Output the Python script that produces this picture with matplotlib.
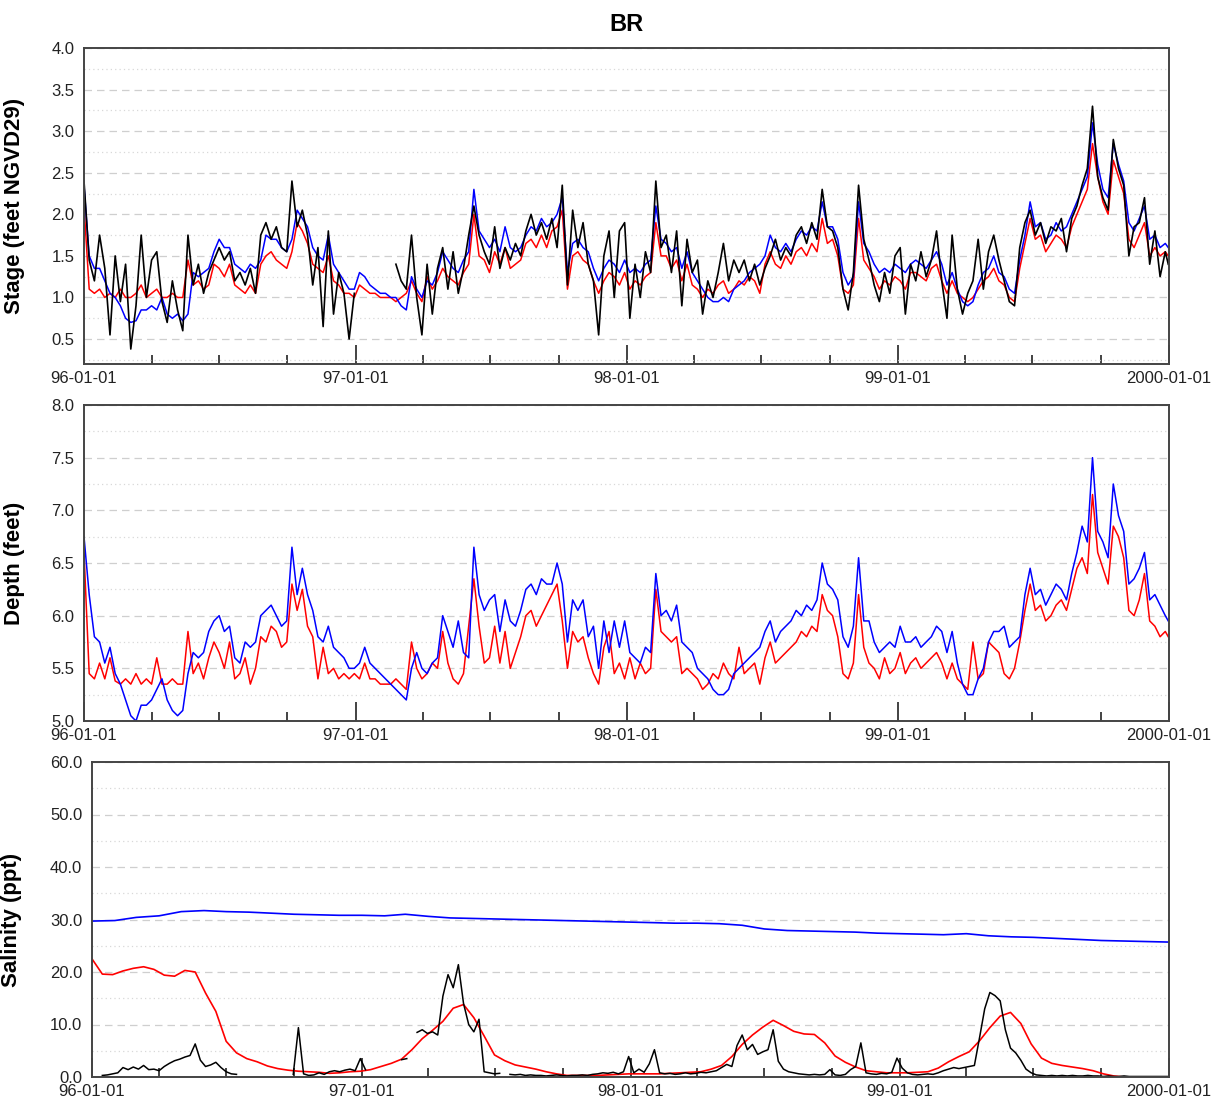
import numpy as np
import matplotlib
matplotlib.use("Agg")
import matplotlib.pyplot as plt
import matplotlib.dates as mdates
from matplotlib.ticker import MultipleLocator, FormatStrFormatter

plt.rcParams['font.family'] = ['Liberation Sans', 'DejaVu Sans']

nan = np.nan

# sampling dates: weekly from 96-01-01 plus the last day of 1999
start = np.datetime64('1996-01-01')
week_dates = start + np.array(list(range(0, 1457, 7)) + [1460]).astype('timedelta64[D]')
biweek_dates = start + np.array(list(range(0, 1457, 14)) + [1460]).astype('timedelta64[D]')
month_dates = np.arange('1996-01', '2000-02', dtype='datetime64[M]').astype('datetime64[D]')

# ---- Stage (feet NGVD29), one row = one quarter (13 weeks)
stage_black = [
    2.40, 1.45, 1.20, 1.75, 1.35, 0.55, 1.50, 0.95, 1.40, 0.38, 0.90, 1.75, 1.00,
    1.45, 1.55, 0.95, 0.70, 1.20, 0.85, 0.60, 1.75, 1.15, 1.40, 1.05, 1.30, 1.45,
    1.60, 1.45, 1.55, 1.20, 1.30, 1.15, 1.35, 1.05, 1.75, 1.90, 1.70, 1.85, 1.60,
    1.55, 2.40, 1.85, 2.05, 1.75, 1.15, 1.60, 0.65, 1.80, 0.80, 1.30, 1.05, 0.50,
    1.05, nan, nan, nan, nan, nan, nan, nan, 1.40, 1.20, 1.10, 1.75, 1.00,
    0.55, 1.40, 0.80, 1.35, 1.60, 1.10, 1.55, 1.05, 1.35, 1.75, 2.10, 1.75, 1.55,
    1.40, 1.85, 1.35, 1.60, 1.45, 1.65, 1.50, 1.80, 2.00, 1.75, 1.90, 1.70, 1.95,
    1.60, 2.35, 1.15, 2.05, 1.60, 1.90, 1.40, 1.20, 0.55, 1.50, 1.80, 1.00, 1.80,
    1.90, 0.75, 1.40, 1.00, 1.55, 1.30, 2.40, 1.60, 1.75, 1.30, 1.80, 0.90, 1.70,
    1.30, 1.45, 0.80, 1.20, 1.00, 1.30, 1.65, 1.20, 1.45, 1.30, 1.45, 1.20, 1.40,
    1.15, 1.35, 1.50, 1.70, 1.45, 1.60, 1.50, 1.75, 1.85, 1.65, 1.90, 1.70, 2.30,
    1.85, 1.80, 1.60, 1.10, 0.85, 1.30, 2.35, 1.70, 1.45, 1.15, 0.95, 1.30, 1.05,
    1.50, 1.60, 0.80, 1.40, 1.20, 1.55, 1.25, 1.45, 1.80, 1.20, 0.75, 1.75, 1.10,
    0.80, 1.05, 1.20, 1.70, 1.10, 1.55, 1.75, 1.45, 1.20, 0.95, 0.90, 1.60, 1.90,
    2.05, 1.75, 1.90, 1.65, 1.85, 1.80, 1.95, 1.55, 1.95, 2.10, 2.35, 2.55, 3.30,
    2.45, 2.20, 2.05, 2.90, 2.55, 2.35, 1.50, 1.85, 1.90, 2.20, 1.40, 1.80, 1.25,
    1.55, 1.40]
stage_blue = [
    2.35, 1.50, 1.35, 1.35, 1.20, 1.05, 1.00, 0.90, 0.75, 0.70, 0.72, 0.85, 0.85,
    0.90, 0.85, 1.00, 0.80, 0.75, 0.80, 0.72, 0.80, 1.30, 1.25, 1.30, 1.35, 1.55,
    1.70, 1.60, 1.60, 1.40, 1.35, 1.30, 1.40, 1.35, 1.45, 1.75, 1.70, 1.70, 1.60,
    1.55, 1.70, 2.05, 1.95, 1.85, 1.60, 1.50, 1.45, 1.75, 1.40, 1.30, 1.20, 1.10,
    1.10, 1.30, 1.25, 1.15, 1.10, 1.05, 1.05, 1.00, 1.00, 0.90, 0.85, 1.25, 1.10,
    1.00, 1.20, 1.15, 1.30, 1.55, 1.45, 1.35, 1.30, 1.45, 1.55, 2.30, 1.80, 1.70,
    1.60, 1.70, 1.55, 1.85, 1.60, 1.55, 1.60, 1.75, 1.85, 1.80, 1.95, 1.85, 1.90,
    2.00, 2.20, 1.30, 1.65, 1.70, 1.60, 1.55, 1.35, 1.20, 1.35, 1.45, 1.40, 1.30,
    1.45, 1.30, 1.35, 1.30, 1.40, 1.45, 2.10, 1.70, 1.65, 1.55, 1.60, 1.35, 1.55,
    1.30, 1.20, 1.10, 1.00, 0.95, 0.95, 1.00, 0.95, 1.10, 1.15, 1.20, 1.30, 1.35,
    1.40, 1.50, 1.75, 1.60, 1.55, 1.65, 1.55, 1.70, 1.80, 1.75, 1.85, 1.80, 2.15,
    1.85, 1.85, 1.70, 1.30, 1.15, 1.25, 2.15, 1.65, 1.55, 1.40, 1.30, 1.35, 1.30,
    1.40, 1.35, 1.30, 1.40, 1.45, 1.40, 1.35, 1.45, 1.55, 1.40, 1.15, 1.30, 1.10,
    0.95, 0.90, 0.95, 1.15, 1.30, 1.35, 1.50, 1.30, 1.25, 1.10, 1.05, 1.45, 1.75,
    2.15, 1.85, 1.90, 1.70, 1.75, 1.90, 1.80, 1.85, 2.00, 2.15, 2.30, 2.45, 3.10,
    2.60, 2.30, 2.20, 2.85, 2.60, 2.40, 1.90, 1.80, 1.95, 2.10, 1.70, 1.75, 1.60,
    1.65, 1.60]
stage_red = [
    2.10, 1.10, 1.05, 1.10, 1.00, 1.05, 1.00, 1.10, 1.00, 1.00, 1.05, 1.15, 1.00,
    1.05, 1.10, 1.00, 1.00, 1.05, 1.00, 1.00, 1.45, 1.15, 1.20, 1.10, 1.15, 1.40,
    1.35, 1.25, 1.40, 1.15, 1.10, 1.05, 1.15, 1.05, 1.40, 1.50, 1.55, 1.45, 1.40,
    1.35, 1.55, 1.90, 1.80, 1.65, 1.40, 1.35, 1.30, 1.50, 1.20, 1.15, 1.05, 1.05,
    1.00, 1.15, 1.10, 1.05, 1.05, 1.00, 1.00, 1.00, 0.95, 1.00, 1.05, 1.20, 1.05,
    0.95, 1.25, 1.10, 1.20, 1.35, 1.25, 1.20, 1.15, 1.30, 1.40, 2.00, 1.50, 1.45,
    1.30, 1.55, 1.40, 1.60, 1.35, 1.40, 1.45, 1.65, 1.70, 1.60, 1.75, 1.60, 1.80,
    1.85, 2.05, 1.10, 1.50, 1.55, 1.45, 1.40, 1.20, 1.05, 1.20, 1.30, 1.25, 1.15,
    1.30, 1.10, 1.20, 1.15, 1.25, 1.30, 1.90, 1.50, 1.50, 1.35, 1.45, 1.20, 1.40,
    1.15, 1.10, 1.00, 1.10, 1.05, 1.15, 1.20, 1.05, 1.10, 1.20, 1.15, 1.25, 1.20,
    1.05, 1.40, 1.55, 1.40, 1.35, 1.50, 1.40, 1.55, 1.60, 1.50, 1.65, 1.55, 1.95,
    1.65, 1.70, 1.50, 1.10, 1.05, 1.15, 1.95, 1.45, 1.35, 1.25, 1.10, 1.20, 1.15,
    1.25, 1.20, 1.10, 1.30, 1.30, 1.25, 1.20, 1.35, 1.40, 1.20, 1.05, 1.20, 1.05,
    1.00, 0.95, 1.00, 1.10, 1.20, 1.25, 1.35, 1.20, 1.15, 1.00, 0.95, 1.35, 1.65,
    1.95, 1.70, 1.75, 1.55, 1.65, 1.75, 1.70, 1.60, 1.85, 2.00, 2.15, 2.30, 2.85,
    2.45, 2.15, 2.00, 2.65, 2.45, 2.25, 1.70, 1.60, 1.75, 1.90, 1.50, 1.60, 1.50,
    1.55, 1.50]

# ---- Depth (feet)
depth_blue = [
    6.75, 6.20, 5.80, 5.75, 5.55, 5.70, 5.45, 5.35, 5.20, 5.05, 5.00, 5.15, 5.15,
    5.20, 5.30, 5.40, 5.20, 5.10, 5.05, 5.10, 5.45, 5.65, 5.60, 5.65, 5.85, 5.95,
    6.00, 5.85, 5.90, 5.60, 5.55, 5.75, 5.70, 5.75, 6.00, 6.05, 6.10, 6.00, 5.90,
    5.95, 6.65, 6.20, 6.45, 6.20, 6.05, 5.80, 5.75, 5.90, 5.70, 5.65, 5.60, 5.50,
    5.50, 5.55, 5.70, 5.55, 5.50, 5.45, 5.40, 5.35, 5.30, 5.25, 5.20, 5.50, 5.65,
    5.50, 5.45, 5.55, 5.60, 6.00, 5.85, 5.70, 5.95, 5.65, 5.60, 6.65, 6.20, 6.05,
    6.15, 6.20, 5.85, 6.15, 5.95, 5.90, 6.05, 6.25, 6.30, 6.20, 6.35, 6.30, 6.30,
    6.50, 6.30, 5.75, 6.15, 6.05, 6.15, 5.80, 5.90, 5.50, 5.95, 5.65, 5.95, 5.70,
    5.95, 5.65, 5.60, 5.55, 5.70, 5.65, 6.40, 6.00, 6.05, 5.95, 6.10, 5.75, 5.70,
    5.65, 5.50, 5.45, 5.40, 5.30, 5.25, 5.25, 5.30, 5.45, 5.50, 5.55, 5.60, 5.65,
    5.70, 5.85, 5.95, 5.75, 5.85, 5.90, 5.95, 6.05, 6.00, 6.10, 6.05, 6.15, 6.50,
    6.30, 6.25, 6.15, 5.80, 5.70, 5.90, 6.55, 5.95, 5.95, 5.75, 5.65, 5.70, 5.75,
    5.70, 5.90, 5.75, 5.75, 5.80, 5.70, 5.75, 5.80, 5.90, 5.85, 5.65, 5.85, 5.55,
    5.35, 5.25, 5.25, 5.40, 5.50, 5.75, 5.85, 5.85, 5.90, 5.70, 5.75, 5.80, 6.20,
    6.45, 6.20, 6.25, 6.10, 6.20, 6.30, 6.25, 6.15, 6.40, 6.60, 6.85, 6.70, 7.50,
    6.80, 6.70, 6.55, 7.25, 6.95, 6.80, 6.30, 6.35, 6.45, 6.60, 6.15, 6.20, 6.10,
    6.00, 5.95]
depth_red = [
    6.60, 5.45, 5.40, 5.55, 5.40, 5.60, 5.38, 5.35, 5.40, 5.35, 5.45, 5.35, 5.40,
    5.35, 5.60, 5.35, 5.35, 5.40, 5.35, 5.35, 5.85, 5.45, 5.55, 5.40, 5.60, 5.75,
    5.65, 5.50, 5.75, 5.40, 5.45, 5.60, 5.35, 5.50, 5.80, 5.75, 5.90, 5.85, 5.70,
    5.75, 6.30, 6.05, 6.25, 5.90, 5.80, 5.40, 5.70, 5.45, 5.50, 5.40, 5.45, 5.40,
    5.45, 5.40, 5.55, 5.40, 5.40, 5.35, 5.35, 5.35, 5.40, 5.35, 5.30, 5.75, 5.50,
    5.40, 5.45, 5.55, 5.50, 5.85, 5.55, 5.40, 5.35, 5.45, 5.90, 6.35, 5.90, 5.55,
    5.60, 5.90, 5.55, 5.85, 5.50, 5.65, 5.80, 6.00, 6.05, 5.90, 6.00, 6.10, 6.20,
    6.30, 5.95, 5.50, 5.85, 5.75, 5.80, 5.60, 5.45, 5.35, 5.70, 5.85, 5.45, 5.55,
    5.40, 5.60, 5.40, 5.55, 5.45, 5.50, 6.25, 5.85, 5.80, 5.75, 5.80, 5.45, 5.50,
    5.45, 5.40, 5.30, 5.35, 5.45, 5.40, 5.55, 5.45, 5.40, 5.70, 5.45, 5.50, 5.55,
    5.35, 5.60, 5.75, 5.55, 5.60, 5.65, 5.70, 5.75, 5.85, 5.80, 5.90, 5.85, 6.20,
    6.05, 6.00, 5.80, 5.45, 5.40, 5.55, 6.20, 5.70, 5.55, 5.50, 5.40, 5.60, 5.45,
    5.50, 5.65, 5.45, 5.55, 5.60, 5.50, 5.55, 5.60, 5.65, 5.55, 5.40, 5.55, 5.40,
    5.35, 5.30, 5.75, 5.40, 5.45, 5.75, 5.70, 5.65, 5.45, 5.40, 5.50, 5.75, 6.05,
    6.30, 6.05, 6.10, 5.95, 6.00, 6.10, 6.15, 6.05, 6.25, 6.45, 6.55, 6.40, 7.15,
    6.60, 6.45, 6.30, 6.85, 6.75, 6.55, 6.05, 6.00, 6.15, 6.40, 5.95, 5.90, 5.80,
    5.85, 5.80]

# ---- Salinity (ppt)
sal_blue = [
    29.7, 29.8, 30.4, 30.7, 31.5, 31.7, 31.5, 31.4, 31.2, 31.0, 30.9, 30.8,
    30.8, 30.7, 31.0, 30.6, 30.3, 30.2, 30.1, 30.0, 29.9, 29.8, 29.7, 29.6,
    29.5, 29.4, 29.3, 29.3, 29.2, 28.9, 28.2, 27.9, 27.8, 27.7, 27.6, 27.4,
    27.3, 27.2, 27.1, 27.3, 26.9, 26.7, 26.6, 26.4, 26.2, 26.0, 25.9, 25.8,
    25.7]
sal_red = [
    22.5, 19.6, 19.5, 20.2, 20.7, 21.0, 20.5, 19.4, 19.2, 20.3, 20.0, 16.0, 12.5,
    6.8, 4.6, 3.5, 2.9, 2.1, 1.6, 1.3, 1.1, 1.0, 0.9, 0.7, 0.8, 1.0,
    1.1, 1.4, 2.0, 2.6, 3.4, 5.2, 7.3, 8.9, 10.6, 13.1, 13.8, 11.3, 7.8,
    4.2, 3.1, 2.3, 1.9, 1.5, 1.0, 0.6, 0.3, 0.3, 0.3, 0.3, 0.4, 0.5,
    0.6, 0.6, 0.6, 0.6, 0.7, 0.8, 0.9, 1.0, 1.5, 2.2, 3.9, 6.2, 8.0,
    9.5, 10.8, 9.8, 8.7, 8.2, 8.1, 6.5, 4.0, 2.8, 1.9, 1.2, 1.0, 0.8,
    0.8, 0.8, 0.9, 1.0, 1.7, 2.9, 3.9, 4.8, 6.9, 9.4, 11.6, 12.3, 10.2,
    6.3, 3.6, 2.6, 2.2, 1.9, 1.6, 1.2, 0.6, 0.2, 0.0, 0.0, 0.0, 0.0,
    0.0, 0.0]
sal_black = [
    nan, nan, 0.3, 0.4, 0.6, 0.8, 1.8, 1.4, 1.9, 1.5, 2.2, 1.4, 1.5,
    1.2, 2.0, 2.6, 3.1, 3.4, 3.8, 4.1, 6.3, 3.2, 2.0, 2.3, 2.8, 1.8,
    1.0, 0.6, 0.5, nan, nan, nan, nan, nan, nan, nan, nan, nan, nan,
    0.5, 9.4, 0.6, 0.3, 0.4, 0.8, 0.5, 1.0, 1.2, 1.0, 1.3, 1.5, 1.2,
    3.5, 1.4, nan, nan, nan, nan, nan, nan, 3.3, 3.5, nan, 8.5, 9.0,
    8.3, 8.6, 8.0, 15.4, 19.5, 17.0, 21.4, 14.0, 10.0, 8.6, 11.0, 1.0, 0.8,
    0.6, 0.7, nan, 0.5, 0.4, 0.5, 0.3, 0.4, 0.3, 0.3, 0.2, 0.3, 0.4,
    0.3, 0.2, 0.3, 0.3, 0.4, 0.3, 0.5, 0.6, 0.8, 0.7, 0.9, 0.6, 1.0,
    3.9, 0.8, 1.5, 0.9, 2.5, 5.2, 0.8, 0.6, 0.7, 0.5, 0.6, 0.8, 0.6,
    0.7, 0.9, 0.8, 1.0, 1.2, 1.8, 2.4, 2.0, 6.0, 8.0, 5.2, 6.2, 4.3,
    4.8, 5.2, 9.0, 3.0, 1.5, 1.0, 0.8, 0.6, 0.5, 0.4, 0.5, 0.4, 0.5,
    1.4, 0.4, 0.3, 0.5, 1.4, 2.0, 6.5, 0.8, 0.6, 0.5, 0.7, 0.6, 0.9,
    3.6, 1.7, 0.8, 0.5, 0.4, 0.5, 0.6, 0.5, 0.8, 1.2, 1.5, 1.8, 1.6,
    1.8, 2.0, 2.2, 7.5, 13.0, 16.1, 15.5, 14.5, 9.0, 5.5, 4.6, 3.2, 1.5,
    0.8, 0.4, 0.3, 0.2, 0.3, 0.2, 0.3, 0.2, 0.3, 0.2, 0.2, 0.3, 0.2,
    0.2, 0.1, 0.2, 0.1, 0.1, 0.2, 0.1, 0.1, 0.1, 0.1, 0.1, 0.1, 0.1,
    0.1, 0.1]

year_ticks = np.array(['1996-01-01', '1997-01-01', '1998-01-01', '1999-01-01', '2000-01-01'],
                      dtype='datetime64[D]')
year_labels = ['96-01-01', '97-01-01', '98-01-01', '99-01-01', '2000-01-01']

W, H = 1225, 1107
fig = plt.figure(figsize=(W / 100, H / 100), dpi=100)


def px_rect(left, top, right, bottom):
    return [left / W, 1 - bottom / H, (right - left) / W, (bottom - top) / H]


def style_axis(ax, ylim, major, minor, fmt, ylabel, labelx):
    ax.set_xlim(np.datetime64('1996-01-01'), np.datetime64('2000-01-01'))
    ax.set_ylim(*ylim)
    ax.set_xticks(year_ticks)
    ax.set_xticklabels(year_labels)
    ax.xaxis.set_minor_locator(mdates.MonthLocator(bymonth=[4, 7, 10]))
    ax.yaxis.set_major_locator(MultipleLocator(major))
    ax.yaxis.set_minor_locator(MultipleLocator(minor))
    ax.yaxis.set_major_formatter(FormatStrFormatter(fmt))
    ax.tick_params(axis='x', which='major', direction='in', length=14, width=1.2,
                   color='#222222', pad=5, labelsize=12, labelcolor='#222222')
    ax.tick_params(axis='x', which='minor', direction='in', length=6.5, width=1.2,
                   color='#222222')
    ax.tick_params(axis='y', which='both', length=0, pad=7, labelsize=12,
                   labelcolor='#222222')
    ax.grid(axis='y', which='major', color='#cfcfcf', linestyle=(0, (6, 4)), linewidth=0.9)
    ax.grid(axis='y', which='minor', color='#d8d8d8', linestyle=(0, (1, 2.5)), linewidth=0.9)
    ax.set_axisbelow(True)
    for s in ax.spines.values():
        s.set_color('#444444')
        s.set_linewidth(1.4)
    ax.set_ylabel(ylabel, fontsize=16, fontweight='bold')
    ax.yaxis.set_label_coords(labelx, 0.5)


# Stage
ax1 = fig.add_axes(px_rect(84, 48, 1169, 364))
ax1.plot(week_dates, stage_red, color='#ff0000', lw=1.1)
ax1.plot(week_dates, stage_blue, color='#0000ff', lw=1.1)
ax1.plot(week_dates, stage_black, color='#000000', lw=1.2)
style_axis(ax1, (0.2, 4.0), 0.5, 0.25, '%.1f', 'Stage (feet NGVD29)', -0.054)
ax1.set_title('BR', fontsize=17, fontweight='bold', pad=12)

# Depth
ax2 = fig.add_axes(px_rect(84, 405, 1169, 721))
ax2.plot(week_dates, depth_red, color='#ff0000', lw=1.1)
ax2.plot(week_dates, depth_blue, color='#0000ff', lw=1.1)
style_axis(ax2, (5.0, 8.0), 0.5, 0.25, '%.1f', 'Depth (feet)', -0.054)

# Salinity
ax3 = fig.add_axes(px_rect(92, 762, 1169, 1077))
ax3.plot(month_dates, sal_blue, color='#0000ff', lw=1.2)
ax3.plot(biweek_dates, sal_red, color='#ff0000', lw=1.2)
ax3.plot(week_dates, sal_black, color='#000000', lw=1.1)
style_axis(ax3, (0.0, 60.0), 10, 5, '%.1f', 'Salinity (ppt)', -0.065)

fig.savefig('out.png', dpi=100)
